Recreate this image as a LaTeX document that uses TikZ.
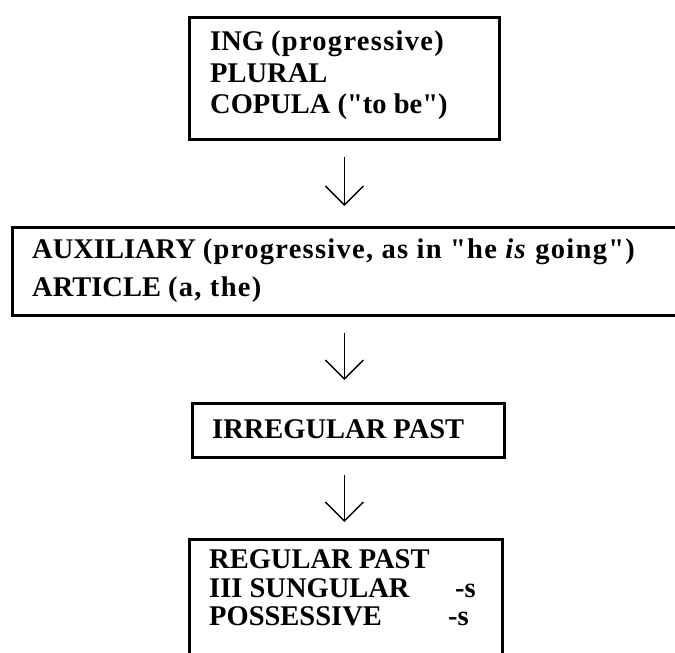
\documentclass[tikz,border=0pt]{standalone}
\usepackage{fontspec}
% plain families without TeX ligature mapping, so " stays a straight quote
\newfontfamily\labelfont{Liberation Serif}
\newfontfamily\widefont{Liberation Serif}[LetterSpace=4.5]
\newcommand{\spaced}[1]{{\widefont\bfseries #1}}
\usetikzlibrary{arrows.meta,calc}
\begin{document}
\begin{tikzpicture}[x=1pt,y=-1pt,
  box/.style={draw,line width=2.6pt,inner sep=0pt,anchor=north west},
  txt/.style={anchor=base west,inner sep=0pt,font=\labelfont\fontsize{28.5}{31.5}\selectfont\bfseries},
  flow/.style={line width=1.4pt,-{Straight Barb[length=19pt,width=38pt,line width=1.4pt]}}]
\clip (0,0) rectangle (675,653);
\fill[white] (0,0) rectangle (675,653);

% stage 1
\node[box,minimum width=310pt,minimum height=122pt] (b1) at (188,16) {};
\node[txt] (t1a) at (210,50)  {ING \spaced{(progressive)}};
\node[txt] (t1b) at (210,82)  {PLURAL};
\node[txt] (t1c) at (210,113) {COPULA ("to be")};

% stage 2 (runs past the right edge)
\node[box,minimum width=690pt,minimum height=88pt] (b2) at (11,226) {};
\node[txt] (t2a) at (32,258) {AUXILIARY \spaced{(progressive, as in "he \textit{is} going")}};
\node[txt] (t2b) at (32,296) {ARTICLE \spaced{(a, the)}};

% stage 3
\node[box,minimum width=312pt,minimum height=54pt] (b3) at (191,402) {};
\node[txt] (t3a) at (212,438) {IRREGULAR PAST};

% stage 4 (runs past the bottom edge)
\node[box,minimum width=313pt,minimum height=140pt] (b4) at (188,538) {};
\node[txt] (t4a) at (209,568) {REGULAR PAST};
\node[txt] (t4b) at (209,597) {III SUNGULAR};
\node[txt] (t4c) at (209,625) {POSSESSIVE};
\node[txt] (s4b) at (455,597) {-s};
\node[txt] (s4c) at (448,625) {-s};

% acquisition order
\draw[flow] ($(b1.south)+(0,16)$) -- ($(b1.south |- b2.north)+(0,-20)$);
\draw[flow] ($(b1.south |- b2.south)+(0,16)$) -- ($(b1.south |- b3.north)+(0,-22)$);
\draw[flow] ($(b1.south |- b3.south)+(0,16)$) -- ($(b1.south |- b4.north)+(0,-16)$);
\end{tikzpicture}
\end{document}
